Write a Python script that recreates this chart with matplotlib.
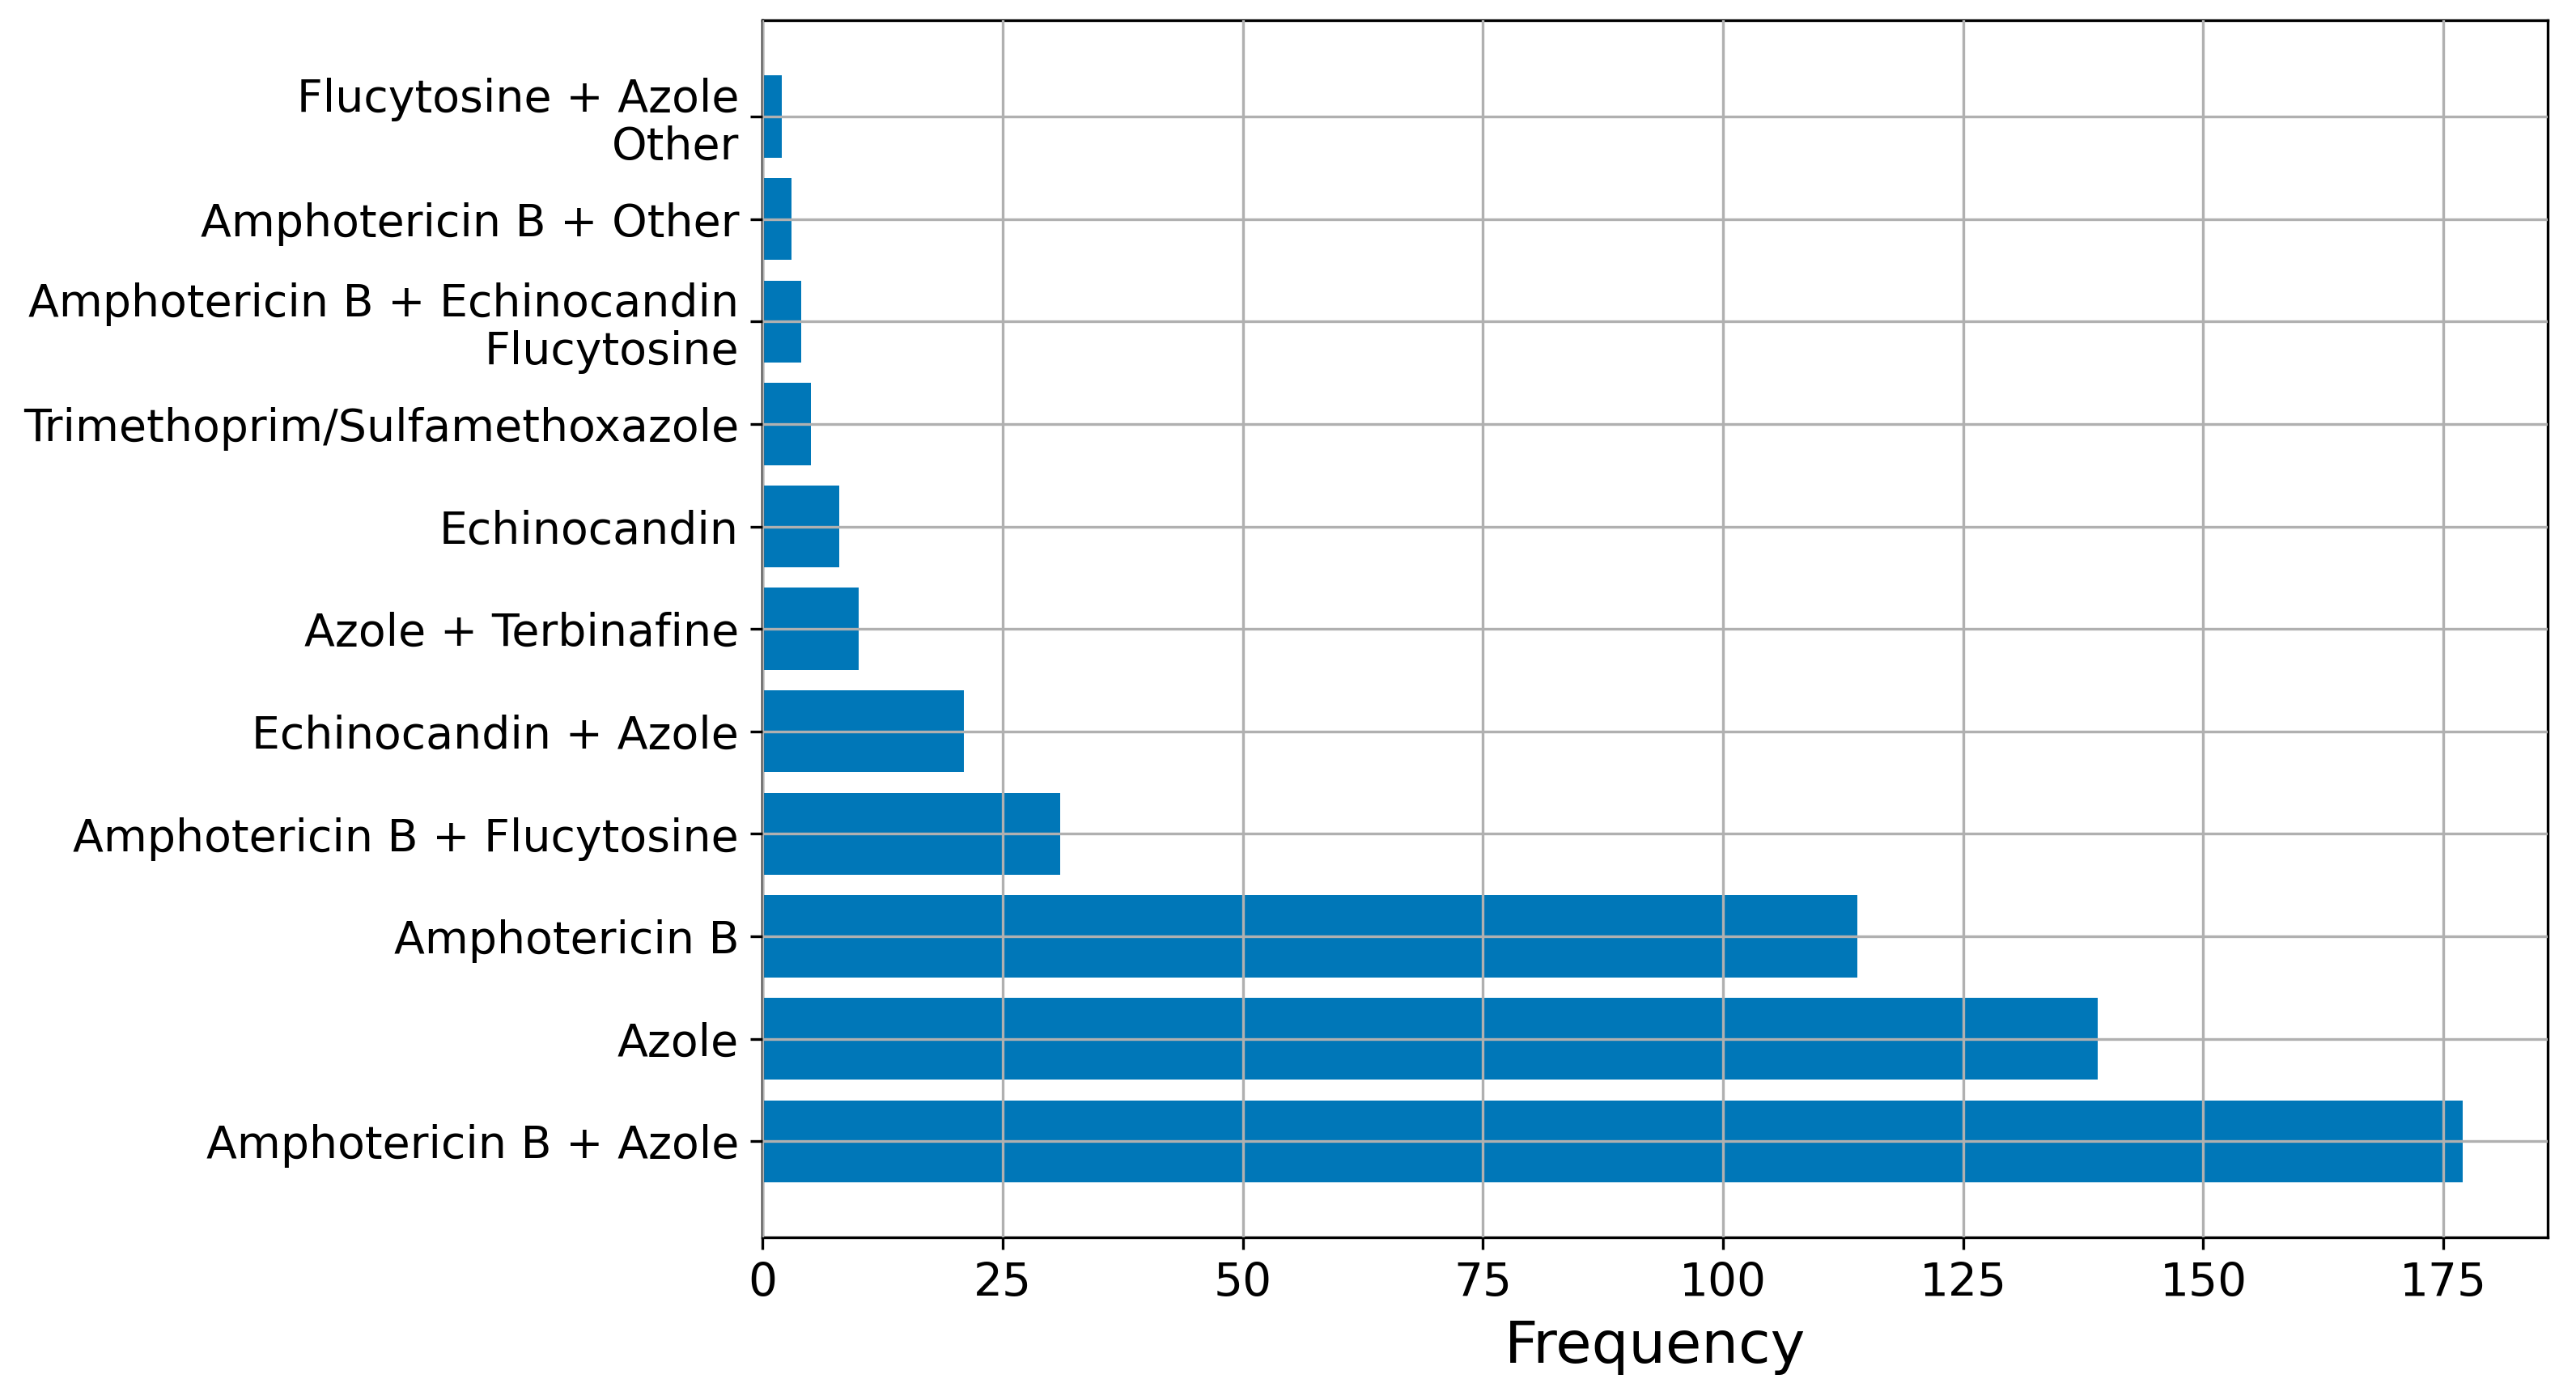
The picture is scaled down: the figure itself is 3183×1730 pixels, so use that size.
import matplotlib
matplotlib.use("Agg")
import matplotlib.pyplot as plt

# Treatment categories, bottom to top as drawn
treatments = [
    "Amphotericin B + Azole",
    "Azole",
    "Amphotericin B",
    "Amphotericin B + Flucytosine",
    "Echinocandin + Azole",
    "Azole + Terbinafine",
    "Echinocandin",
    "Trimethoprim/Sulfamethoxazole",
    "Amphotericin B + Echinocandin\nFlucytosine",
    "Amphotericin B + Other",
    "Flucytosine + Azole\nOther",
]
frequency = [177, 139, 114, 31, 21, 10, 8, 5, 4, 3, 2]
x_ticks = [0, 25, 50, 75, 100, 125, 150, 175]

fig = plt.figure(figsize=(10.61, 5.767), dpi=300)
ax = fig.add_axes([0.296, 0.116, 0.693, 0.8695])

ax.barh(range(len(treatments)), frequency, height=0.8, color="#0077B8", zorder=1)
ax.set_yticks(range(len(treatments)))
ax.set_yticklabels(treatments, fontsize=13.3, linespacing=1.1)
ax.set_xticks(x_ticks)
ax.tick_params(axis="x", labelsize=13.6)
ax.set_xlim(0, max(frequency) * 1.05)
ax.set_xlabel("Frequency", fontsize=17.3)

# grid drawn over the bars
ax.grid(True, color="#b0b0b0", linewidth=0.8, zorder=2)
ax.set_axisbelow(False)

fig.savefig("out.png", dpi=300)
